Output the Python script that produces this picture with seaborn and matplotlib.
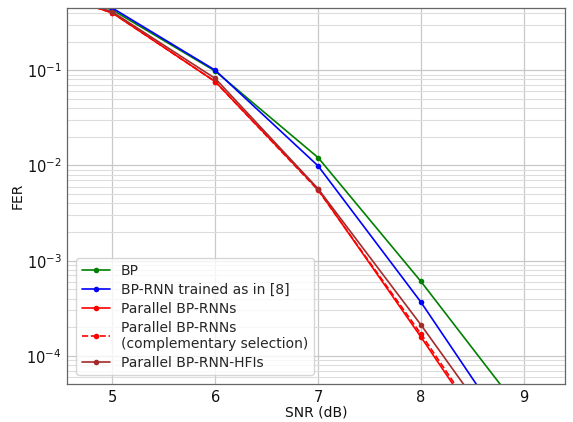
import numpy as np
import pandas as pd
import matplotlib
matplotlib.use('Agg')
import matplotlib.pyplot as plt
import seaborn as sns

snr = [4, 5, 6, 7, 8, 9]

fer_bp = [0.95, 0.43, 0.098, 0.0121, 6.05e-4, 2.4e-5]
fer_bprnn = [0.95, 0.45, 0.1, 0.0099, 3.67e-4, 9.2e-6]
fer_par = [0.9, 0.40, 0.076, 0.0056, 1.58e-4, 4.0e-6]
fer_par_comp = [0.9, 0.40, 0.076, 0.0055, 1.7e-4, 4.3e-6]
fer_hfi = [0.9, 0.41, 0.082, 0.0057, 2.12e-4, 6.6e-6]

labels = ['BP', 'BP-RNN trained as in [8]', 'Parallel BP-RNNs',
          'Parallel BP-RNNs\n(complementary selection)', 'Parallel BP-RNN-HFIs']
colors = ['green', 'blue', 'red', 'red', 'brown']
styles = ['-', '-', '-', '--', '-']

rows = []
for lab, vals in zip(labels, [fer_bp, fer_bprnn, fer_par, fer_par_comp, fer_hfi]):
    for s, v in zip(snr, vals):
        rows.append({'SNR': s, 'FER': v, 'decoder': lab})
df = pd.DataFrame(rows)

sns.set_style('whitegrid')
plt.rcParams['font.family'] = ['DejaVu Sans']

fig, ax = plt.subplots(figsize=(5.73, 4.22), dpi=100)

for lab, col, ls in zip(labels, colors, styles):
    sub = df[df['decoder'] == lab]
    sns.lineplot(data=sub, x='SNR', y='FER', ax=ax, color=col, linestyle=ls,
                 marker='o', markersize=4, markeredgewidth=0, linewidth=1.2,
                 label=lab)

ax.set_yscale('log')
ax.set_xlim(4.56, 9.4)
ax.set_ylim(5.07e-5, 0.45)
ax.set_xticks([5, 6, 7, 8, 9])
ax.grid(True, which='major', color='#c8c8c8', linewidth=0.9)
ax.grid(True, which='minor', axis='y', color='#dddddd', linewidth=0.8)
ax.tick_params(axis='both', which='both', labelsize=10.5, length=0, pad=4,
               labelcolor='#111111')
for sp in ax.spines.values():
    sp.set_color('#666666')
    sp.set_linewidth(0.9)

ax.set_xlabel('SNR (dB)', fontsize=10, labelpad=1, color='#111111')
ax.set_ylabel('FER', fontsize=10, labelpad=1, color='#111111')

ax.legend(loc='lower left', fontsize=10, frameon=True, framealpha=0.8,
          handlelength=2.0, borderpad=0.4, labelspacing=0.35,
          bbox_to_anchor=(0.005, 0.005))

fig.subplots_adjust(left=0.117, right=0.986, top=0.981, bottom=0.09)
fig.savefig('out.png', dpi=100)
